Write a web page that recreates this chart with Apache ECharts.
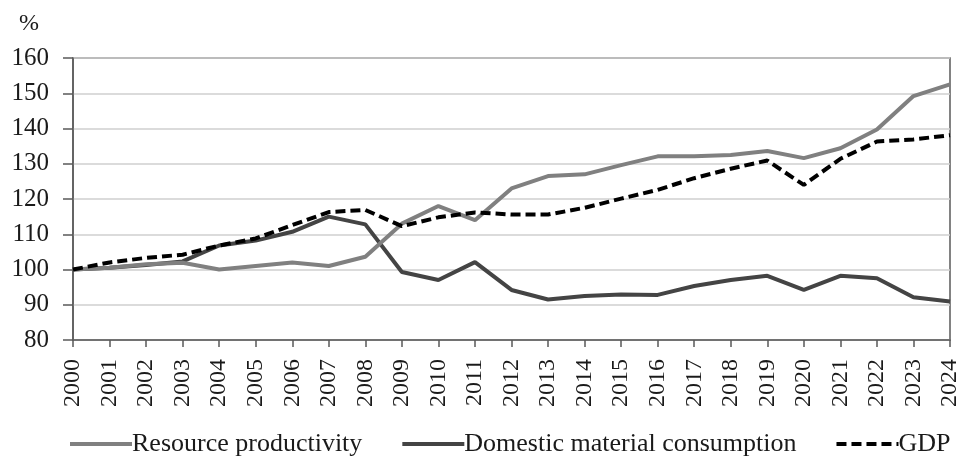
<!DOCTYPE html>
<html>
<head>
<meta charset="utf-8">
<script src="https://cdn.jsdelivr.net/npm/echarts@6/dist/echarts.min.js"></script>
<style>
    html, body { margin: 0; padding: 0; background: #fff; }
    #chart { width: 962px; height: 459px; }
</style>
</head>
<body>
<div id="chart"></div>
<script>
const years = ['2000', '2001', '2002', '2003', '2004', '2005', '2006', '2007', '2008', '2009',
    '2010', '2011', '2012', '2013', '2014', '2015', '2016', '2017', '2018', '2019',
    '2020', '2021', '2022', '2023', '2024'];

const resourceProductivity = [100, 100.5, 101.5, 101.9, 100, 101, 102, 101, 103.6, 113,
    118, 114, 123, 126.5, 127, 129.6, 132.1, 132.1, 132.5, 133.6,
    131.6, 134.4, 139.7, 149.2, 152.5];

const domesticMaterial = [100, 100.5, 101.3, 102.3, 106.8, 108.2, 110.7, 115, 112.8, 99.3,
    97, 102.1, 94.2, 91.5, 92.5, 92.9, 92.8, 95.3, 97, 98.2,
    94.2, 98.2, 97.5, 92.1, 90.9];

const gdp = [100, 102, 103.3, 104.2, 106.8, 108.8, 112.6, 116.3, 116.9, 112.3,
    114.8, 116.2, 115.6, 115.6, 117.5, 120.1, 122.6, 125.9, 128.6, 130.9,
    124, 131.4, 136.3, 136.9, 138.1];

const FONT = '"Liberation Serif", "DejaVu Serif", serif';
const TEXT = '#1a1a1a';
const AXIS = '#5a5a5a';

const chart = echarts.init(document.getElementById('chart'));

chart.setOption({
    animation: false,
    backgroundColor: '#fff',
    textStyle: { fontFamily: FONT, color: TEXT },
    title: {
        text: '%', left: 14, top: 7,
        textStyle: { fontFamily: FONT, fontWeight: 'normal', fontSize: 24, color: TEXT },
    },
    grid: {
        left: 73, right: 11, top: 58, bottom: 119,
        show: true, borderColor: AXIS, borderWidth: 1.5,
    },
    legend: {
        top: 426, left: 63,
        itemWidth: 62, itemHeight: 14, itemGap: 38,
        lineStyle: { width: 4 },
        itemStyle: { opacity: 0 },
        textStyle: { fontFamily: FONT, fontSize: 26, color: TEXT, padding: [0, 0, 0, -5] },
        data: ['Resource productivity', 'Domestic material consumption', 'GDP'],
    },
    xAxis: {
        type: 'category', data: years, boundaryGap: false,
        axisLine: { lineStyle: { color: AXIS, width: 1.5 } },
        axisTick: { show: true, length: 7, lineStyle: { color: AXIS, width: 1.5 } },
        axisLabel: { rotate: 90, fontFamily: FONT, fontSize: 24, color: TEXT, margin: 19, interval: 0 },
        splitLine: { show: false },
    },
    yAxis: {
        type: 'value', min: 80, max: 160, interval: 10,
        axisLine: { show: true, lineStyle: { color: AXIS, width: 1.5 } },
        axisTick: { show: true, length: 10, lineStyle: { color: AXIS, width: 1.5 } },
        axisLabel: { fontFamily: FONT, fontSize: 25, color: TEXT, margin: 24 },
        splitLine: { lineStyle: { color: '#cfcfcf', width: 1.5 } },
    },
    series: [
        {
            name: 'Resource productivity', type: 'line', data: resourceProductivity,
            symbol: 'none', color: '#808080',
            lineStyle: { color: '#808080', width: 4 }, z: 3,
        },
        {
            name: 'Domestic material consumption', type: 'line', data: domesticMaterial,
            symbol: 'none', color: '#444444',
            lineStyle: { color: '#444444', width: 4 }, z: 2,
        },
        {
            name: 'GDP', type: 'line', data: gdp,
            symbol: 'none', color: '#000000',
            lineStyle: { color: '#000000', width: 4, type: [10, 5] }, z: 4,
        },
    ],
});
</script>
</body>
</html>
